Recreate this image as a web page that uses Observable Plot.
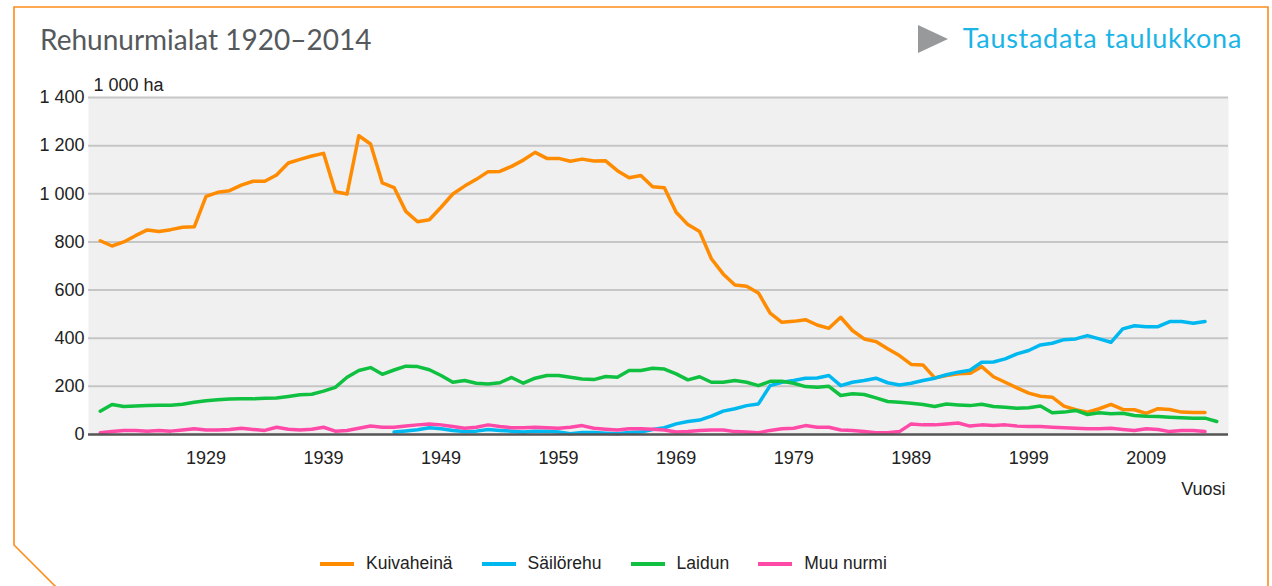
<!DOCTYPE html>
<html>
<head>
<meta charset="utf-8">
<script src="https://cdn.jsdelivr.net/npm/d3@7"></script>
<script src="https://cdn.jsdelivr.net/npm/@observablehq/plot@0.6"></script>
<style>
  html, body { margin: 0; padding: 0; background: #fff; }
  #wrap { position: relative; width: 1272px; height: 586px; overflow: hidden; font-family: "Liberation Sans", Arial, sans-serif; }
  #border { position: absolute; left: 0; top: 0; }
  #title { position: absolute; left: 40px; top: 23px; font-family: Lato, "Open Sans", sans-serif; font-size: 28px; line-height: 32px; color: #55595c; white-space: nowrap; }
  #link { position: absolute; right: 30px; top: 22px; font-family: Lato, "Open Sans", sans-serif; font-size: 27px; letter-spacing: 0.7px; line-height: 32px; color: #1ab4e6; white-space: nowrap; }
  #tri { position: absolute; left: 918px; top: 25px; width: 0; height: 0; border-top: 14.5px solid transparent; border-bottom: 14.5px solid transparent; border-left: 30px solid #98999b; }
  #chart { position: absolute; left: 0; top: 0; }
  #legend { position: absolute; left: 320px; top: 553px; display: flex; align-items: center; font-size: 17.5px; color: #222; white-space: nowrap; }
  .item { display: flex; align-items: center; margin-right: 29px; }
  .sw { width: 34px; height: 4px; margin-right: 12px; }
</style>
</head>
<body>
<div id="wrap">
  <svg id="border" width="1272" height="586"><path d="M56,587 L14,545 L14,7 L1268,7 L1268,587" fill="none" stroke="#ff8c1a" stroke-width="1.6"/></svg>
  <div id="title"></div>
  <div id="tri"></div>
  <div id="link"></div>
  <div id="chart"></div>
  <div id="legend"></div>
</div>
<script>
const titleText = "Rehunurmialat 1920–2014";
const linkText = "Taustadata taulukkona";
const unitLabel = "1 000 ha";
const xLabel = "Vuosi";

const seriesNames = ["Kuivaheinä", "Säilörehu", "Laidun", "Muu nurmi"];
const seriesColors = ["#ff8b00", "#00b8f0", "#10c040", "#ff4aa8"];

const xTicks = [1929, 1939, 1949, 1959, 1969, 1979, 1989, 1999, 2009];
const yTicks = [0, 200, 400, 600, 800, 1000, 1200, 1400];
const yTickLabels = ["0", "200", "400", "600", "800", "1 000", "1 200", "1 400"];

// Kuivaheinä 1920–2014
const kuivaStart = 1920;
const kuivaheina = [
  805, 783, 800, 826, 850, 843, 851, 861, 863, 989,
  1006, 1013, 1036, 1052, 1052, 1078, 1128, 1143, 1157, 1168,
  1009, 999, 1241, 1207, 1045, 1026, 927, 884, 892, 944,
  999, 1032, 1060, 1092, 1093, 1114, 1140, 1172, 1147, 1147,
  1135, 1144, 1136, 1137, 1096, 1067, 1076, 1029, 1025, 923,
  872, 843, 730, 667, 621, 616, 588, 504, 466, 470,
  477, 455, 441, 487, 432, 397, 386, 356, 328, 291,
  289, 235, 245, 252, 254, 282, 240, 217, 194, 172,
  159, 155, 118, 103, 93, 107, 125, 104, 103, 88,
  107, 104, 93, 91, 91
];
// Säilörehu 1945–2014
const sailoStart = 1945;
const sailorehu = [
  10, 15, 20, 28, 24,
  17, 12, 14, 21, 17, 14, 10, 14, 14, 10,
  3, 8, 8, 5, 3, 8, 10, 21, 28, 44,
  54, 60, 76, 97, 107, 120, 127, 203, 217, 224,
  234, 235, 245, 203, 217, 224, 234, 215, 206, 213,
  224, 234, 248, 259, 267, 300, 301, 314, 335, 349,
  372, 379, 394, 397, 411, 397, 383, 439, 452, 448,
  448, 469, 469, 462, 469
];
// Laidun 1920–2015
const laidunStart = 1920;
const laidun = [
  97, 125, 116, 118, 120, 122, 122, 126, 134, 140,
  144, 147, 149, 148, 151, 152, 158, 165, 167, 180,
  196, 238, 266, 278, 250, 268, 284, 282, 269, 245,
  217, 224, 213, 210, 215, 237, 213, 234, 245, 245,
  238, 231, 228, 241, 238, 266, 266, 275, 272, 252,
  227, 240, 217, 217, 224, 217, 203, 221, 221, 213,
  199, 196, 200, 162, 169, 166, 152, 137, 134, 130,
  125, 116, 127, 123, 120, 126, 116, 113, 109, 111,
  118, 90, 93, 100, 83, 90, 86, 88, 79, 76,
  75, 72, 70, 68, 68, 54
];
// Muu nurmi 1920–2014
const muuStart = 1920;
const muuNurmi = [
  7, 12, 17, 17, 14, 17, 14, 19, 24, 19,
  19, 21, 26, 21, 17, 30, 22, 19, 22, 30,
  14, 17, 26, 35, 30, 30, 35, 40, 44, 40,
  33, 26, 30, 40, 33, 28, 28, 30, 28, 26,
  30, 37, 26, 22, 19, 24, 24, 22, 19, 10,
  12, 17, 19, 19, 12, 10, 7, 17, 24, 26,
  37, 30, 30, 19, 17, 12, 7, 7, 12, 44,
  40, 40, 44, 48, 35, 40, 37, 40, 35, 33,
  33, 30, 28, 26, 24, 24, 26, 21, 17, 24,
  21, 12, 17, 17, 12
];

const seriesData = [
  [seriesNames[0], kuivaStart, kuivaheina],
  [seriesNames[1], sailoStart, sailorehu],
  [seriesNames[2], laidunStart, laidun],
  [seriesNames[3], muuStart, muuNurmi]
];
const rows = seriesData.flatMap(([name, start, vals]) => vals.map((v, i) => ({series: name, year: start + i, value: v})));

document.getElementById("title").textContent = titleText;
document.getElementById("link").textContent = linkText;

const chart = Plot.plot({
  width: 1272,
  height: 520,
  marginTop: 97,
  marginBottom: 86,
  marginLeft: 88,
  marginRight: 44,
  x: {domain: [1919, 2016]},
  y: {domain: [0, 1400]},
  color: {domain: seriesNames, range: seriesColors},
  style: {fontFamily: "'Liberation Sans', Arial, sans-serif", fontSize: "18px", color: "#222", background: "transparent", overflow: "visible"},
  marks: [
    Plot.frame({fill: "#f0f0f0", stroke: "none"}),
    Plot.ruleY(yTicks.filter(d => d > 0), {stroke: "#c6c6c6", strokeWidth: 2}),
    Plot.line(rows, {x: "year", y: "value", z: "series", stroke: "series", strokeWidth: 3.5, strokeLinejoin: "round", strokeLinecap: "round"}),
    Plot.ruleY([0], {stroke: "#555", strokeWidth: 2.5}),
    Plot.axisX(xTicks, {tickSize: 0, tickPadding: 17, tickFormat: d => String(d), fontSize: 18, label: null}),
    Plot.axisY(yTicks, {tickSize: 0, tickPadding: 4, tickFormat: d => yTickLabels[yTicks.indexOf(d)], fontSize: 18, label: null}),
    Plot.text([unitLabel], {frameAnchor: "top-left", dx: 5, dy: -12, textAnchor: "start", lineAnchor: "middle", text: d => d, fontSize: 18}),
    Plot.text([xLabel], {frameAnchor: "bottom-right", dx: -3, dy: 55, textAnchor: "end", lineAnchor: "middle", text: d => d, fontSize: 18})
  ]
});
document.getElementById("chart").appendChild(chart);

const legend = document.getElementById("legend");
seriesNames.forEach((name, i) => {
  const item = document.createElement("div");
  item.className = "item";
  const sw = document.createElement("div");
  sw.className = "sw";
  sw.style.background = seriesColors[i];
  const label = document.createElement("span");
  label.textContent = name;
  item.appendChild(sw);
  item.appendChild(label);
  legend.appendChild(item);
});
</script>
</body>
</html>
